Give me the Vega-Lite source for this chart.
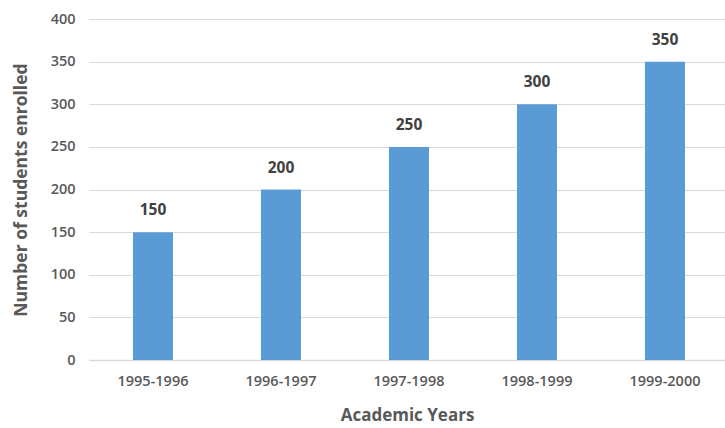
{
  "$schema": "https://vega.github.io/schema/vega-lite/v6.json",
  "autosize": "none",
  "width": 636,
  "height": 341,
  "padding": {"left": 89, "top": 19, "right": 0, "bottom": 68},
  "background": "white",
  "config": {
    "view": {"stroke": null},
    "font": "Open Sans"
  },
  "data": {
    "values": [
      {"year": "1995-1996", "students": 150},
      {"year": "1996-1997", "students": 200},
      {"year": "1997-1998", "students": 250},
      {"year": "1998-1999", "students": 300},
      {"year": "1999-2000", "students": 350}
    ]
  },
  "encoding": {
    "x": {
      "field": "year", "type": "nominal", "sort": null,
      "scale": {"paddingInner": 0.6875, "paddingOuter": 0.328125, "align": 0.5238},
      "axis": {
        "title": "Academic Years", "titleFontSize": 17, "titleFontWeight": "bold",
        "titleColor": "#595959", "titlePadding": 20,
        "labelAngle": 0, "labelFontSize": 14.5, "labelFontWeight": 600, "labelColor": "#595959", "labelPadding": 14,
        "ticks": false, "domainColor": "#d9d9d9", "domainWidth": 1.5, "grid": false
      }
    },
    "y": {
      "field": "students", "type": "quantitative",
      "scale": {"domain": [0, 400]},
      "axis": {
        "title": "Number of students enrolled", "titleFontSize": 17.5, "titleFontWeight": "bold",
        "titleColor": "#595959", "titlePadding": 20,
        "values": [0, 50, 100, 150, 200, 250, 300, 350, 400],
        "labelFontSize": 14.5, "labelFontWeight": 600, "labelColor": "#595959", "labelPadding": 14,
        "ticks": false, "domain": false, "gridColor": "#d9d9d9", "gridWidth": 1.2
      }
    }
  },
  "layer": [
    {"mark": {"type": "bar", "color": "#5B9BD5"}},
    {
      "mark": {"type": "text", "dy": -22, "fontSize": 15.5, "fontWeight": "bold", "color": "#404040"},
      "encoding": {"text": {"field": "students", "type": "quantitative"}}
    }
  ]
}
